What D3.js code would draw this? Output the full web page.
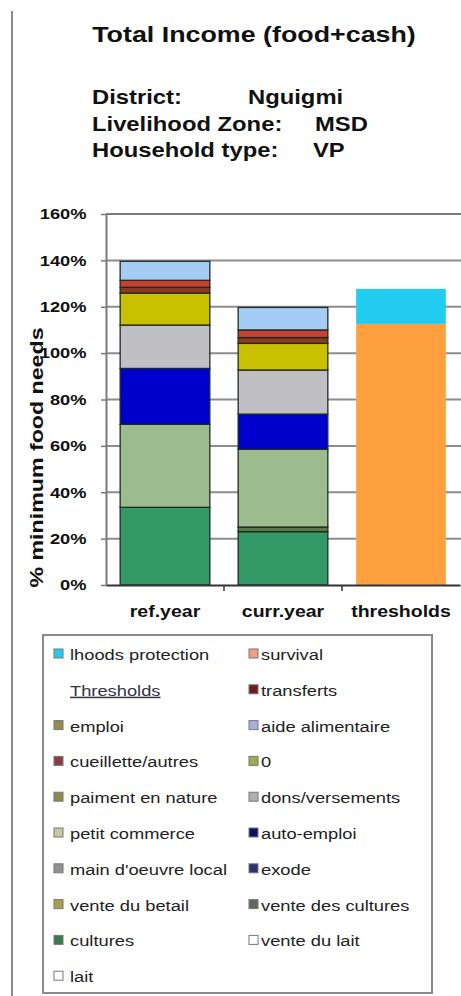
<!DOCTYPE html>
<html><head><meta charset="utf-8">
<script src="https://cdn.jsdelivr.net/npm/d3@7"></script>
<style>html,body{margin:0;padding:0;background:#fff}svg{display:block}text{font-family:"Liberation Sans",Arial,sans-serif}</style>
</head><body><svg id="c" width="461" height="996"></svg>
<script>
// ---- data ----
const categories = ["ref.year", "curr.year", "thresholds"];
const yTicks = [0, 0.2, 0.4, 0.6, 0.8, 1.0, 1.2, 1.4, 1.6];

// values in % of minimum food needs, per category [ref.year, curr.year, thresholds]
const cultures          = [33.5, 23.0, 0];
const venteDesCultures  = [0.0,  2.0,  0];
const venteDuBetail     = [35.8, 33.5, 0];
const exode             = [24.1, 15.2, 0];
const mainDOeuvreLocal  = [18.7, 19.0, 0];
const petitCommerce     = [13.8, 11.5, 0];
const transferts        = [2.5,  2.5,  0];
const cueilletteAutres  = [3.0,  3.3,  0];
const aideAlimentaire   = [8.2,  9.7,  0];
const survival          = [0,    0,    112.6];
const lhoodsProtection  = [0,    0,    15.1];

const stackNames  = ["cultures","vente des cultures","vente du betail","exode","main d'oeuvre local","petit commerce","transferts","cueillette/autres","aide alimentaire","survival","lhoods protection"];
const stackArrays = [cultures, venteDesCultures, venteDuBetail, exode, mainDOeuvreLocal, petitCommerce, transferts, cueilletteAutres, aideAlimentaire, survival, lhoodsProtection];
const stackColors = ["#339966","#5a7a44","#9dbc8e","#0000cc","#c0c0c4","#c8c000","#8e3a1e","#c8402e","#a4ccf4","#ffa040","#22ccf0"];

// legend (row-major, two columns)
const legendNames  = ["lhoods protection","survival","Thresholds","transferts","emploi","aide alimentaire","cueillette/autres","0","paiment en nature","dons/versements","petit commerce","auto-emploi","main d'oeuvre local","exode","vente du betail","vente des cultures","cultures","vente du lait","lait"];
const legendColors = ["#22ccf0","#f0a080",null,"#6a2020","#9a8a50","#a8b0e0","#8a3a4a","#a0a850","#8a8a50","#b0b0b0","#c8c8a0","#101060","#909090","#303070","#a8a050","#606860","#3a7a4a","#ffffff","#ffffff"];

const title = "Total Income (food+cash)";
const infoLabels = ["District:", "Livelihood Zone:", "Household type:"];
const infoValues = ["Nguigmi", "MSD", "VP"];
const yTitle = "% minimum food needs";

// ---- drawing ----
const svg = d3.select("#c");
const K = 1.22; // horizontal glyph stretch of the original rendering

// chart frame (left edge)
svg.append("line").attr("x1",12).attr("x2",12).attr("y1",11).attr("y2",996)
  .attr("stroke","#8a8a8a").attr("stroke-width",2);

function stretchedText(x, y, str, size, weight, anchor, rot) {
  return svg.append("text")
    .attr("transform", `translate(${x},${y})` + (rot ? ` rotate(${rot})` : "") + ` scale(${K},1)`)
    .attr("text-anchor", anchor || "start")
    .attr("font-size", size).attr("font-weight", weight || "normal")
    .attr("fill", "#111").text(str);
}

stretchedText(254, 42, title, 22, "bold", "middle");
const infoX = [248, 315, 313];
infoLabels.forEach((t, i) => {
  stretchedText(92, 104 + i * 26.5, t, 19.5, "bold");
  stretchedText(infoX[i], 104 + i * 26.5, infoValues[i], 19.5, "bold");
});

const plot = {left: 106, right: 461, top: 214, bottom: 585};
const x = d3.scaleBand().domain(categories).range([plot.left, 460]).paddingInner(0.24).paddingOuter(0.12);
const y = d3.scaleLinear().domain([0, 1.6]).range([plot.bottom, plot.top]);

// gridlines
svg.append("g").selectAll("line").data(yTicks.filter(d => d > 0)).join("line")
  .attr("x1", plot.left).attr("x2", plot.right)
  .attr("y1", d => y(d)).attr("y2", d => y(d))
  .attr("stroke", d => d === 1.6 ? "#7a7a7a" : "#8c8c8c").attr("stroke-width", 2);

// stacked bars
const rows = categories.map((c, i) => {
  const o = {cat: c};
  stackNames.forEach((n, j) => o[n] = stackArrays[j][i] / 100);
  return o;
});
const stacked = d3.stack().keys(stackNames)(rows);
const color = d3.scaleOrdinal().domain(stackNames).range(stackColors);

svg.append("g").selectAll("g").data(stacked).join("g")
  .attr("fill", d => color(d.key))
  .selectAll("rect").data(d => d.filter(s => s[1] - s[0] > 0)).join("rect")
  .attr("x", d => x(d.data.cat)).attr("width", x.bandwidth())
  .attr("y", d => y(d[1])).attr("height", d => y(d[0]) - y(d[1]))
  .attr("stroke", d => d.data.cat === "thresholds" ? "none" : "#1e2a22")
  .attr("stroke-width", 1.3);

// y axis
const yAxis = svg.append("g").attr("transform", `translate(${plot.left},0)`)
  .call(d3.axisLeft(y).tickValues(yTicks).tickFormat(d3.format(".0%")).tickSizeInner(5).tickSizeOuter(0).tickPadding(11));
yAxis.select(".domain").attr("stroke", "#7a7a7a").attr("stroke-width", 2);
yAxis.selectAll(".tick line").attr("stroke", "#7a7a7a").attr("stroke-width", 1.5);
yAxis.selectAll(".tick text").attr("font-size", 15).attr("font-weight", "bold")
  .attr("font-family", "Liberation Sans, Arial, sans-serif").attr("fill", "#111")
  .attr("transform", `scale(${K},1)`);

// x axis
const xAxis = svg.append("g").attr("transform", `translate(0,${plot.bottom})`)
  .call(d3.axisBottom(x).tickSize(0).tickPadding(21));
xAxis.select(".domain").attr("stroke", "#333").attr("stroke-width", 2);
xAxis.selectAll(".tick text").attr("font-size", 16).attr("font-weight", "bold")
  .attr("font-family", "Liberation Sans, Arial, sans-serif").attr("fill", "#111")
  .attr("transform", `scale(${K},1)`);
const gap = x.step() * x.paddingInner() / 2;
xAxis.append("g").selectAll("line").data(categories.slice(1)).join("line")
  .attr("x1", d => x(d) - gap).attr("x2", d => x(d) - gap)
  .attr("y1", 0).attr("y2", 6).attr("stroke", "#333").attr("stroke-width", 1.5);

// y title
stretchedText(43, (plot.top + plot.bottom) / 2 + 58, yTitle, 19, "bold", "middle", -90);

// legend
const lg = svg.append("g");
lg.append("rect").attr("x", 43).attr("y", 635).attr("width", 389).attr("height", 358)
  .attr("fill", "#fff").attr("stroke", "#8a8a8a").attr("stroke-width", 2);
const colX = [54, 249], textX = [70, 261];
legendNames.forEach((n, i) => {
  const c = i % 2, r = Math.floor(i / 2);
  const by = 660 + r * 35.8;
  if (legendColors[i]) {
    lg.append("rect").attr("x", colX[c]).attr("y", by - 11).attr("width", 9).attr("height", 9)
      .attr("fill", legendColors[i]).attr("stroke", "#777").attr("stroke-width", 1);
  }
  const t = lg.append("text")
    .attr("transform", `translate(${textX[c]},${by}) scale(${K},1)`)
    .attr("font-size", 15).attr("fill", n === "Thresholds" ? "#334" : "#222").text(n);
  if (n === "Thresholds") t.attr("text-decoration", "underline");
});
</script></body></html>
